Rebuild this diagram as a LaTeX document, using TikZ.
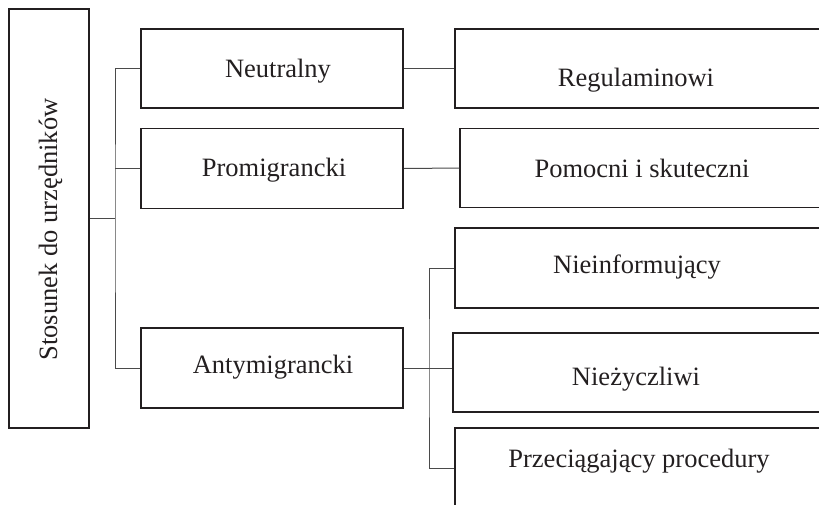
\documentclass[tikz,border=0pt]{standalone}
\usepackage{fontspec}
\setmainfont{Liberation Serif}
\definecolor{ink}{HTML}{231F20}
\definecolor{wire}{HTML}{4A4A4A}
\begin{document}
\begin{tikzpicture}[x=1pt,y=-1pt,
  box/.style={draw=ink,line width=1.5pt,rectangle,inner sep=0pt},
  lbl/.style={anchor=base,text=ink,inner sep=0pt,font=\fontsize{26.5}{30}\selectfont},
  wireline/.style={draw=wire,line width=1pt}]
\useasboundingbox (0,0) rectangle (819,504);
% boxes
\node[box,minimum width=80pt,minimum height=419pt] (L) at (49,218.5) {};
\node[box,minimum width=262pt,minimum height=79pt] (N) at (272,68.5) {};
\node[box,minimum width=262pt,minimum height=80pt] (P) at (272,168.5) {};
\node[box,minimum width=262pt,minimum height=80pt] (A) at (272,368) {};
\node[box,minimum width=367pt,minimum height=79pt] (Reg) at (638.5,68.5) {};
\node[box,minimum width=362pt,minimum height=79pt] (Pom) at (641,168) {};
\node[box,minimum width=367pt,minimum height=80pt] (Nie) at (638.5,268) {};
\node[box,minimum width=369pt,minimum height=79pt] (Niez) at (637.5,372.5) {};
\node[box,minimum width=367pt,minimum height=80pt] (Prz) at (638.5,468) {};
% labels
\node[lbl,rotate=90] (Lt) at (57,229.5) {Stosunek do urzędników};
\node[lbl] (Nt) at (278,77) {Neutralny};
\node[lbl] (Pt) at (274,176) {Promigrancki};
\node[lbl] (At) at (273,373) {Antymigrancki};
\node[lbl] (Regt) at (636,86) {Regulaminowi};
\node[lbl] (Pomt) at (642,177) {Pomocni i skuteczni};
\node[lbl] (Niet) at (637,273) {Nieinformujący};
\node[lbl] (Nieztt) at (636,385) {Nieżyczliwi};
\node[lbl] (Przt) at (639,467) {Przeciągający procedury};
% connectors
\coordinate (j1) at (115,218.5);
\coordinate (j2) at (429,368);
\draw[wireline] (L.east) -- (j1);
\draw[wireline] (N.west) -| (j1) |- (A.west);
\draw[wireline] (P.west) -- (j1 |- P.west);
\draw[wireline] (N.east) -- (Reg.west);
\draw[wireline] (P.east) -- (Pom.west);
\draw[wireline] (A.east) -- (Niez.west |- A.east);
\draw[wireline] (Nie.west) -| (j2) |- (Prz.west);
\end{tikzpicture}
\end{document}
